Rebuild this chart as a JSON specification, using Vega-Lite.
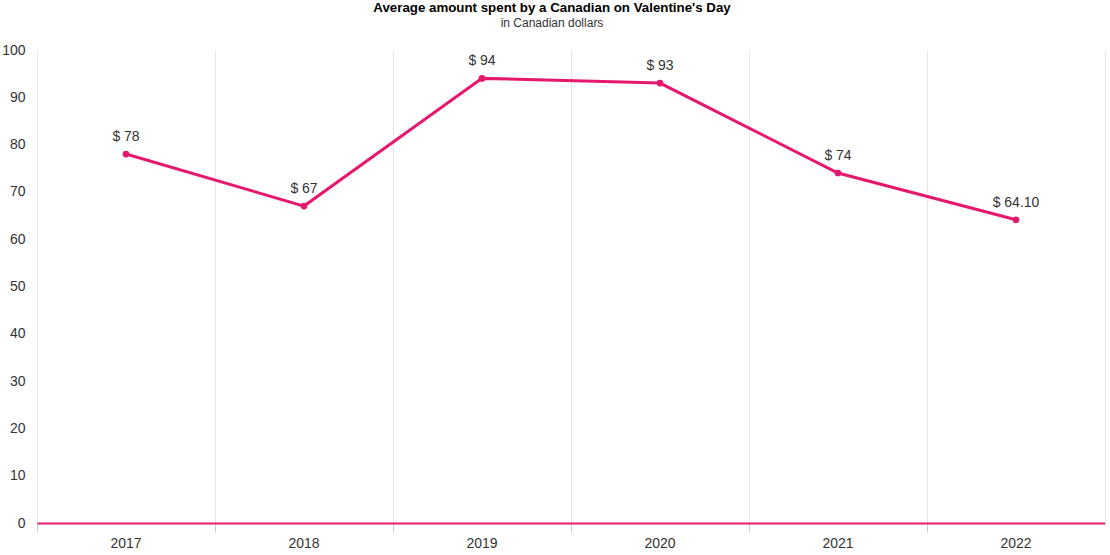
{
  "$schema": "https://vega.github.io/schema/vega-lite/v6.json",
  "width": 1068,
  "height": 473,
  "autosize": {"type": "none"},
  "padding": {"left": 37, "top": 50, "right": 5, "bottom": 32},
  "config": {"view": {"stroke": null}, "font": "Liberation Sans"},
  "title": {
    "text": "Average amount spent by a Canadian on Valentine's Day",
    "subtitle": "in Canadian dollars",
    "fontSize": 13.3,
    "fontWeight": "bold",
    "color": "#000000",
    "subtitleFontSize": 12,
    "subtitleColor": "#333333",
    "subtitlePadding": 4,
    "anchor": "middle",
    "frame": "group",
    "dx": -19,
    "offset": 14
  },
  "data": {
    "values": [
      {"year": "2017", "amount": 78, "label": "$ 78"},
      {"year": "2018", "amount": 67, "label": "$ 67"},
      {"year": "2019", "amount": 94, "label": "$ 94"},
      {"year": "2020", "amount": 93, "label": "$ 93"},
      {"year": "2021", "amount": 74, "label": "$ 74"},
      {"year": "2022", "amount": 64.1, "label": "$ 64.10"}
    ]
  },
  "encoding": {
    "x": {
      "field": "year",
      "type": "ordinal",
      "scale": {"type": "band", "paddingInner": 0, "paddingOuter": 0},
      "axis": {
        "title": null,
        "labelAngle": 0,
        "bandPosition": 0,
        "grid": true,
        "gridColor": "#e6e6e6",
        "gridWidth": 1,
        "ticks": true,
        "tickColor": "#cccccc",
        "tickSize": 9,
        "domainColor": "#e91e73",
        "domainWidth": 2,
        "labelFontSize": 14,
        "labelColor": "#333333",
        "labelPadding": 4
      }
    }
  },
  "layer": [
    {
      "mark": {"type": "line", "color": "#e6186e", "strokeWidth": 3},
      "encoding": {
        "y": {
          "field": "amount",
          "type": "quantitative",
          "scale": {"domain": [0, 100]},
          "axis": {
            "title": null,
            "tickCount": 10,
            "grid": false,
            "ticks": false,
            "domain": false,
            "labelFontSize": 14,
            "labelColor": "#333333",
            "labelPadding": 12
          }
        }
      }
    },
    {
      "mark": {"type": "point", "filled": true, "color": "#e6186e", "size": 45, "opacity": 1},
      "encoding": {
        "y": {
          "field": "amount",
          "type": "quantitative",
          "scale": {"domain": [0, 100]},
          "axis": {
            "orient": "right",
            "title": null,
            "labels": false,
            "ticks": false,
            "grid": false,
            "domain": true,
            "domainColor": "#e6e6e6",
            "domainWidth": 1
          }
        }
      }
    },
    {
      "mark": {"type": "text", "dy": -17, "fontSize": 14, "color": "#333333"},
      "encoding": {
        "y": {"field": "amount", "type": "quantitative", "scale": {"domain": [0, 100]}, "axis": null},
        "text": {"field": "label"}
      }
    }
  ],
  "resolve": {"axis": {"y": "independent"}}
}
